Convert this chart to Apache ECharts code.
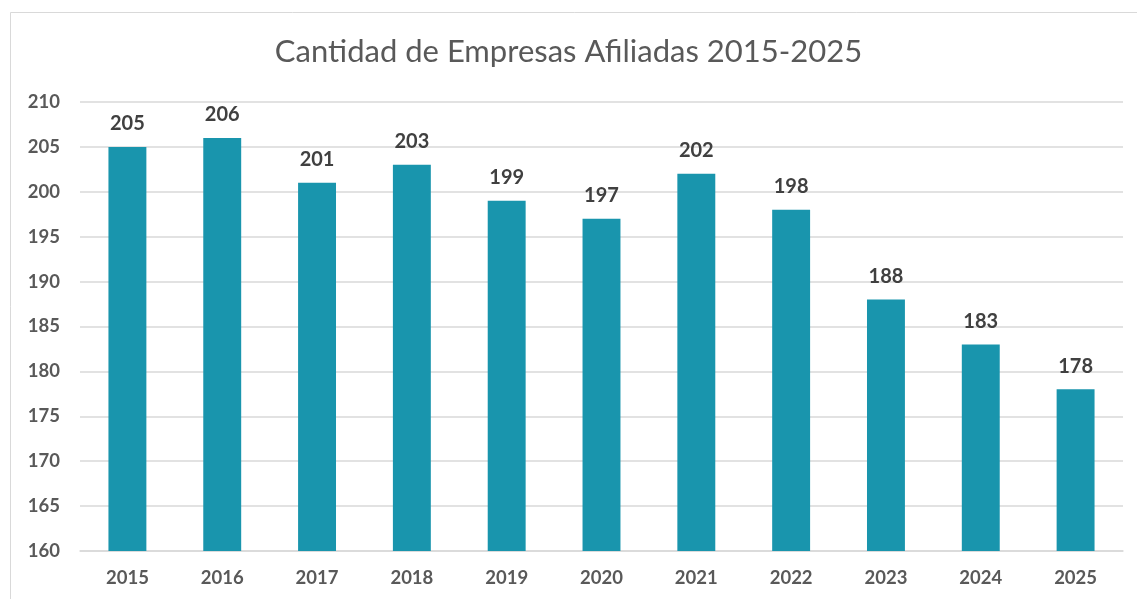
<!DOCTYPE html>
<html>
<head>
<meta charset="utf-8">
<script src="https://cdn.jsdelivr.net/npm/echarts@6/dist/echarts.min.js"></script>
<style>
html,body{margin:0;padding:0;background:#fff;}
#c{width:1137px;height:599px;}
</style>
</head>
<body>
<div id="c"></div>
<script>
const categories = ['2015','2016','2017','2018','2019','2020','2021','2022','2023','2024','2025'];
const values = [205, 206, 201, 203, 199, 197, 202, 198, 188, 183, 178];
const titleText = 'Cantidad de Empresas Afiliadas 2015-2025';

const chart = echarts.init(document.getElementById('c'));
chart.setOption({
  animation: false,
  backgroundColor: '#ffffff',
  graphic: [{
    type: 'rect',
    shape: { x: 10.5, y: 12.5, width: 1200, height: 700 },
    style: { fill: 'none', stroke: '#d9d9d9', lineWidth: 1 },
    silent: true
  }],
  title: {
    text: titleText,
    left: 'center',
    top: 31,
    textStyle: { fontFamily: 'Lato', fontSize: 31, fontWeight: 'normal', color: '#595959' }
  },
  grid: { left: 80, right: 14, top: 102, bottom: 48, containLabel: false },
  xAxis: {
    type: 'category',
    data: categories,
    axisLine: { show: true, lineStyle: { color: '#d9d9d9', width: 1.5 } },
    axisTick: { show: false },
    axisLabel: { fontFamily: 'Lato', fontSize: 18.5, fontWeight: 'bold', color: '#595959', margin: 18 }
  },
  yAxis: {
    type: 'value',
    min: 160, max: 210, interval: 5,
    axisLine: { show: false },
    axisTick: { show: false },
    splitLine: { lineStyle: { color: '#d9d9d9', width: 1.5 } },
    axisLabel: { fontFamily: 'Lato', fontSize: 18.5, fontWeight: 'bold', color: '#595959', margin: 20 }
  },
  series: [{
    type: 'bar',
    data: values,
    barWidth: '40%',
    itemStyle: { color: '#1995AD' },
    label: {
      show: true, position: 'top', distance: 13,
      fontFamily: 'Lato', fontSize: 20, fontWeight: 'bold', color: '#404040'
    }
  }]
});
</script>
</body>
</html>
